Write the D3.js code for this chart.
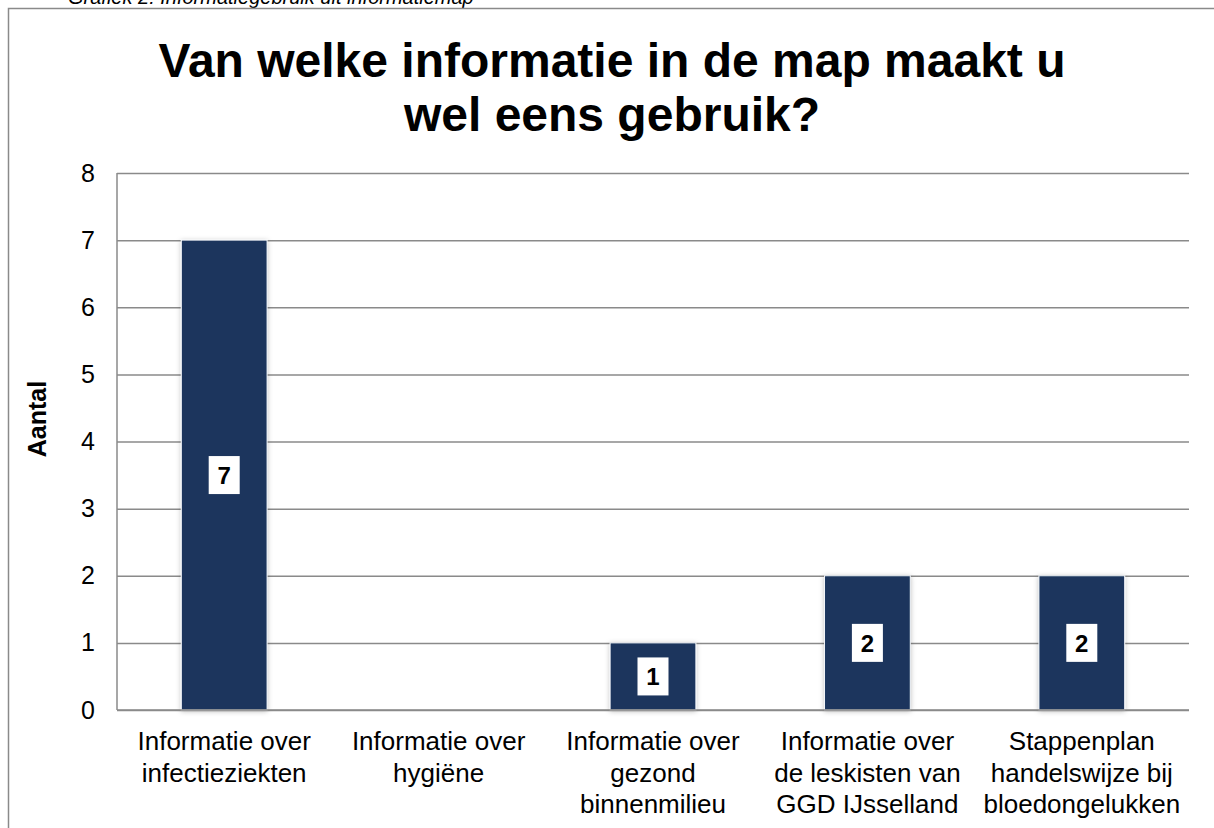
<!DOCTYPE html>
<html>
<head>
<meta charset="utf-8">
<script src="https://cdn.jsdelivr.net/npm/d3@7"></script>
<style>
  body { margin: 0; background: #fff; }
  svg { display: block; font-family: Arial, "Liberation Sans", sans-serif; }
</style>
</head>
<body>
<svg id="chart" width="1214" height="828"></svg>
<script>
// data
const categories = [
    ['Informatie over', 'infectieziekten'],
    ['Informatie over', 'hygiëne'],
    ['Informatie over', 'gezond', 'binnenmilieu'],
    ['Informatie over', 'de leskisten van', 'GGD IJsselland'],
    ['Stappenplan', 'handelswijze bij', 'bloedongelukken']
];
const values = [7, 0, 1, 2, 2];
const yTicks = [0, 1, 2, 3, 4, 5, 6, 7, 8];
const titleLines = ['Van welke informatie in de map maakt u', 'wel eens gebruik?'];
const caption = 'Grafiek 2: Informatiegebruik uit informatiemap';
const yTitle = 'Aantal';

const svg = d3.select('svg#chart');
const width = +svg.attr('width');
const height = +svg.attr('height');
const margin = {top: 173, right: 25, bottom: 118, left: 117};
const innerWidth = width - margin.left - margin.right;
const innerHeight = height - margin.top - margin.bottom;

const barColor = '#1a365d';
const gridColor = '#8a8a8a';

// shadow for bars
const defs = svg.append('defs');
const filter = defs.append('filter').attr('id', 'shadow')
    .attr('x', '-20%').attr('y', '-10%').attr('width', '140%').attr('height', '120%');
filter.append('feDropShadow')
    .attr('dx', 0).attr('dy', 1).attr('stdDeviation', 2.5)
    .attr('flood-color', '#000').attr('flood-opacity', 0.25);

// caption (cut off at top in the original) and outer frame
svg.append('text')
    .attr('x', 68).attr('y', 4)
    .attr('font-size', 20).attr('font-style', 'italic')
    .text(caption);

svg.append('rect')
    .attr('x', 8.5).attr('y', 8.5)
    .attr('width', width + 20).attr('height', height + 20)
    .attr('fill', 'none').attr('stroke', gridColor).attr('stroke-width', 1.5);

// title
svg.append('text')
    .attr('text-anchor', 'middle')
    .attr('font-size', 48).attr('font-weight', 'bold')
    .selectAll('tspan').data(titleLines)
    .enter().append('tspan')
    .attr('x', 612)
    .attr('y', (d, i) => 77 + i * 54)
    .text(d => d);

const xScale = d3.scaleBand()
    .domain(d3.range(categories.length))
    .range([0, innerWidth])
    .paddingInner(0.6)
    .paddingOuter(0.3);

const yScale = d3.scaleLinear()
    .domain([0, 8])
    .range([innerHeight, 0]);

const g = svg.append('g')
    .attr('transform', `translate(${margin.left}, ${margin.top})`);

// gridlines + y axis
const yAxis = d3.axisLeft(yScale)
    .tickValues(yTicks)
    .tickSize(-innerWidth)
    .tickPadding(22)
    .tickFormat(d3.format('d'));

const yAxisG = g.append('g').call(yAxis);
yAxisG.select('.domain').remove();
yAxisG.selectAll('.tick line')
    .attr('stroke', gridColor).attr('stroke-width', 1.5);
yAxisG.selectAll('.tick text')
    .attr('font-size', 25).attr('fill', '#000')
    .attr('font-family', 'Arial, "Liberation Sans", sans-serif');

g.append('line')
    .attr('x1', 0).attr('x2', 0)
    .attr('y1', 0).attr('y2', innerHeight)
    .attr('stroke', gridColor).attr('stroke-width', 1.5);

// x axis labels
const xAxis = d3.axisBottom(xScale).tickSize(0).tickFormat('');
const xAxisG = g.append('g')
    .attr('transform', `translate(0, ${innerHeight})`)
    .call(xAxis);
xAxisG.select('.domain').remove();
xAxisG.selectAll('.tick').append('text')
    .attr('text-anchor', 'middle')
    .attr('font-size', 26).attr('fill', '#000')
    .attr('font-family', 'Arial, "Liberation Sans", sans-serif')
    .selectAll('tspan').data(i => categories[i])
    .enter().append('tspan')
    .attr('x', 0)
    .attr('y', (d, j) => 40 + j * 31.5)
    .text(d => d);

// bars
const bars = g.selectAll('g.bar').data(values.map((v, i) => ({v, i})).filter(d => d.v > 0))
    .enter().append('g').attr('class', 'bar');

bars.append('rect')
    .attr('x', d => xScale(d.i))
    .attr('y', d => yScale(d.v))
    .attr('width', xScale.bandwidth())
    .attr('height', d => innerHeight - yScale(d.v))
    .attr('fill', barColor)
    .attr('stroke', '#f4f6fa').attr('stroke-width', 1)
    .attr('filter', 'url(#shadow)');

// value labels in white boxes
bars.append('rect')
    .attr('x', d => xScale(d.i) + xScale.bandwidth() / 2 - 15.5)
    .attr('y', d => (yScale(d.v) + innerHeight) / 2 - 19)
    .attr('width', 31).attr('height', 38)
    .attr('fill', '#fff');

bars.append('text')
    .attr('x', d => xScale(d.i) + xScale.bandwidth() / 2)
    .attr('y', d => (yScale(d.v) + innerHeight) / 2)
    .attr('dy', '0.36em')
    .attr('text-anchor', 'middle')
    .attr('font-size', 24).attr('font-weight', 'bold')
    .text(d => d.v);

// bottom axis line
g.append('line')
    .attr('x1', 0).attr('x2', innerWidth)
    .attr('y1', innerHeight).attr('y2', innerHeight)
    .attr('stroke', gridColor).attr('stroke-width', 1.5);

// y title
svg.append('text')
    .attr('transform', 'translate(46, 419) rotate(-90)')
    .attr('text-anchor', 'middle')
    .attr('font-size', 25).attr('font-weight', 'bold')
    .text(yTitle);
</script>
</body>
</html>
